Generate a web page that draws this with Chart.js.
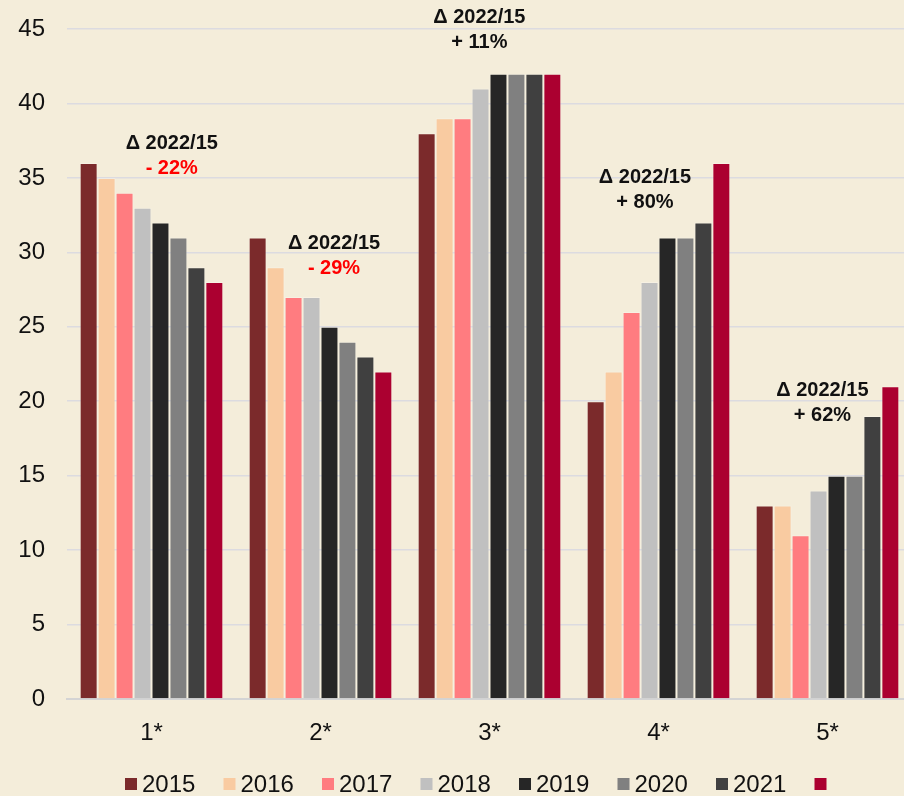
<!DOCTYPE html>
<html>
<head>
<meta charset="utf-8">
<script src="https://cdn.jsdelivr.net/npm/chart.js@4.4.1/dist/chart.umd.min.js"></script>
<style>
  html, body { margin: 0; padding: 0; background: #f4edda; overflow: hidden; }
  #wrap { width: 912px; height: 796px; }
</style>
</head>
<body>
<div id="wrap"><canvas id="grafico"></canvas></div>
<script>
// Datos
const categorias = ['1*', '2*', '3*', '4*', '5*'];
const anios = ['2015', '2016', '2017', '2018', '2019', '2020', '2021', ''];
const colores = ['#7b2a2b', '#f9cba1', '#ff7c80', '#c0c0c0', '#262626', '#808080', '#404040', '#ab0030'];

const v2015 = [36, 31, 38, 20, 13];
const v2016 = [35, 29, 39, 22, 13];
const v2017 = [34, 27, 39, 26, 11];
const v2018 = [33, 27, 41, 28, 14];
const v2019 = [32, 25, 42, 31, 15];
const v2020 = [31, 24, 42, 31, 15];
const v2021 = [29, 23, 42, 32, 19];
const v2022 = [28, 22, 42, 36, 21];
const series = [v2015, v2016, v2017, v2018, v2019, v2020, v2021, v2022];

const ticksY = [0, 5, 10, 15, 20, 25, 30, 35, 40, 45];

// Posición de los rótulos de variación (desplazamiento en categorías, altura en valor del eje)
const rotuloDx = [0.12, 0.08, -0.06, -0.08, -0.03];
const rotuloY = [37.3, 30.6, 45.8, 35.05, 20.75];

const fuente = "'Liberation Sans', Arial, sans-serif";

// Variación 2022 frente a 2015
function variacion(i) {
  const p = Math.round((v2022[i] / v2015[i] - 1) * 100);
  return (p < 0 ? '- ' : '+ ') + Math.abs(p) + '%';
}

const rotulos = {
  id: 'rotulos',
  afterDatasetsDraw(chart) {
    const { ctx, scales: { x, y } } = chart;
    const paso = x.getPixelForValue(1) - x.getPixelForValue(0);
    ctx.save();
    ctx.textAlign = 'center';
    ctx.textBaseline = 'middle';
    ctx.font = 'bold 20px ' + fuente;
    categorias.forEach((c, i) => {
      const px = x.getPixelForValue(i) + rotuloDx[i] * paso;
      const py = y.getPixelForValue(rotuloY[i]);
      ctx.fillStyle = '#111';
      ctx.fillText('\u0394 2022/15', px, py);
      ctx.fillStyle = v2022[i] < v2015[i] ? '#ff0000' : '#111';
      ctx.fillText(variacion(i), px, py + 25);
    });
    ctx.restore();
  }
};

// Leyenda propia
const leyenda = {
  id: 'leyenda',
  afterDraw(chart) {
    const ctx = chart.ctx;
    const inicio = 125, paso = 98.5, yc = 784;
    ctx.save();
    ctx.font = '24px ' + fuente;
    ctx.textBaseline = 'middle';
    ctx.textAlign = 'left';
    anios.forEach((a, i) => {
      const bx = inicio + i * paso;
      ctx.fillStyle = colores[i];
      ctx.fillRect(bx, yc - 6, 12, 12);
      ctx.fillStyle = '#111';
      ctx.fillText(a, bx + 17, yc + 1);
    });
    ctx.restore();
  }
};

new Chart(document.getElementById('grafico'), {
  type: 'bar',
  data: {
    labels: categorias,
    datasets: series.map((d, i) => ({
      label: anios[i],
      data: d,
      backgroundColor: colores[i],
      borderColor: 'rgba(255,255,255,0.25)',
      borderWidth: 1,
      categoryPercentage: 0.85,
      barPercentage: 1
    }))
  },
  options: {
    responsive: true,
    maintainAspectRatio: false,
    animation: false,
    layout: { padding: { top: 29, left: 0, right: 0, bottom: 0 } },
    plugins: {
      legend: { display: false },
      tooltip: { enabled: false }
    },
    scales: {
      x: {
        grid: { display: false },
        border: { color: '#d4d4d4', width: 2 },
        ticks: { color: '#111', font: { family: fuente, size: 24 }, padding: 12 },
        afterFit(s) { s.height = 97; }
      },
      y: {
        min: 0,
        max: 45,
        afterBuildTicks(s) { s.ticks = ticksY.map(v => ({ value: v })); },
        grid: { color: '#dcdbe0', lineWidth: 1.5, drawTicks: false },
        border: { display: false },
        ticks: { color: '#111', font: { family: fuente, size: 24 }, padding: 22 },
        afterFit(s) { s.width = 67; s.paddingTop = 0; s.paddingBottom = 0; }
      }
    }
  },
  plugins: [rotulos, leyenda]
});
</script>
</body>
</html>
